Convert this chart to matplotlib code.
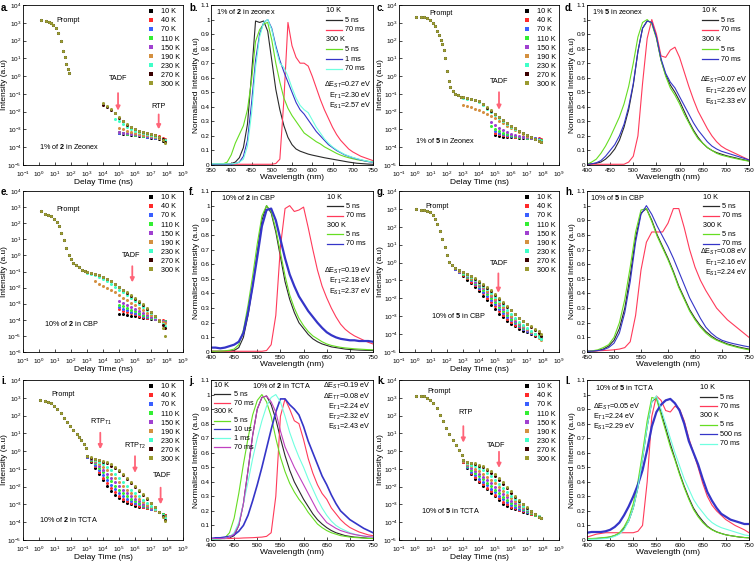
import numpy as np
import matplotlib
matplotlib.use('Agg')
import matplotlib.pyplot as plt
from matplotlib.lines import Line2D
from matplotlib.ticker import NullLocator

plt.rcParams['font.family'] = ['Liberation Sans', 'DejaVu Sans']
plt.rcParams['mathtext.fontset'] = 'custom'
plt.rcParams['mathtext.rm'] = 'Liberation Sans'
plt.rcParams['mathtext.it'] = 'Liberation Sans:italic'
plt.rcParams['mathtext.bf'] = 'Liberation Sans:bold'
plt.rcParams['mathtext.sf'] = 'Liberation Sans'
plt.rcParams['axes.linewidth'] = 0.6

n = np.nan

temps = ['10 K', '40 K', '70 K', '110 K', '150 K', '190 K', '230 K', '270 K', '300 K']
temp_colors = ['#000000', '#ff2a2a', '#3a5fff', '#33ee33', '#a040d0',
               '#d49040', '#40ffc8', '#3a0000', '#9a9a30']

# ---------------- decay data (log10 of time in ns, log10 of intensity) ----------------
a_t_prompt = [0.15, 0.46, 0.6, 0.75, 0.9, 1.05, 1.2, 1.35, 1.5, 1.6, 1.7, 1.8, 1.9]
a_i_prompt = [3.18, 3.08, 3.05, 3.0, 2.9, 2.72, 2.4, 1.95, 1.4, 1.05, 0.7, 0.42, 0.2]
a_t_del = [4.0, 4.25, 4.5, 4.75, 5.0, 5.25, 5.5, 5.75, 6.0, 6.25, 6.5, 6.75, 7.0, 7.25, 7.5, 7.75, 7.9]
a_i_del = [
    [n, n, n, n, -3.2, -3.24, -3.28, -3.3, -3.33, -3.36, -3.39, -3.42, -3.46, -3.5, -3.56, -3.64, -3.72],
    [n, n, n, n, -3.15, -3.2, -3.24, -3.27, -3.3, -3.32, -3.34, -3.36, -3.36, -3.33, -3.38, -3.46, -3.54],
    [n, n, n, n, -3.18, -3.22, -3.26, -3.28, -3.31, -3.34, -3.37, -3.4, -3.43, -3.46, -3.5, -3.56, -3.62],
    [n, n, n, n, -3.17, -3.2, -3.24, -3.27, -3.3, -3.33, -3.36, -3.39, -3.42, -3.45, -3.5, -3.55, -3.6],
    [n, n, n, n, -3.16, -3.19, -3.22, -3.25, -3.28, -3.31, -3.34, -3.37, -3.4, -3.44, -3.48, -3.52, -3.58],
    [n, n, n, n, -2.9, -3.0, -3.08, -3.15, -3.21, -3.26, -3.3, -3.34, -3.38, -3.42, -3.46, -3.52, -3.58],
    [n, n, n, -2.4, -2.55, -2.72, -2.87, -2.98, -3.07, -3.14, -3.2, -3.25, -3.3, -3.36, -3.43, -3.52, -3.6],
    [-1.6, -1.75, -1.9, -2.1, -2.33, -2.55, -2.74, -2.88, -2.99, -3.08, -3.15, -3.21, -3.27, -3.34, -3.43, -3.56, -3.68],
    [-1.5, -1.68, -1.86, -2.06, -2.28, -2.5, -2.7, -2.85, -2.97, -3.06, -3.14, -3.2, -3.26, -3.33, -3.44, -3.58, -3.75],
]

c_t_prompt = [0.05, 0.35, 0.55, 0.75, 0.95, 1.1, 1.25, 1.4, 1.5, 1.6, 1.7, 1.8, 1.9, 2.0, 2.1, 2.2, 2.35, 2.5, 2.7, 2.9]
c_i_prompt = [3.35, 3.32, 3.3, 3.25, 3.15, 3.0, 2.8, 2.55, 2.3, 2.05, 1.8, 1.45, 1.0, 0.3, -0.3, -0.6, -0.85, -0.98, -1.08, -1.15]
c_t_del = [3.0, 3.25, 3.5, 3.75, 4.0, 4.25, 4.5, 4.75, 5.0, 5.25, 5.5, 5.75, 6.0, 6.25, 6.5, 6.75, 7.0, 7.25, 7.5, 7.75, 7.9]
c_i_del = [
    [n] * 8 + [-3.3, -3.36, -3.4, -3.42, -3.44, -3.45, -3.46, -3.47, -3.48, -3.5, -3.52, -3.56, -3.6],
    [n] * 8 + [-3.2, -3.27, -3.32, -3.35, -3.38, -3.4, -3.42, -3.43, -3.44, -3.45, -3.47, -3.5, -3.52],
    [n] * 8 + [-3.1, -3.2, -3.27, -3.32, -3.36, -3.39, -3.42, -3.44, -3.46, -3.48, -3.5, -3.54, -3.58],
    [n] * 7 + [-2.8, -2.95, -3.08, -3.18, -3.26, -3.32, -3.37, -3.41, -3.44, -3.47, -3.5, -3.54, -3.58, -3.62],
    [n] * 7 + [-2.6, -2.75, -2.9, -3.03, -3.14, -3.23, -3.3, -3.36, -3.41, -3.45, -3.5, -3.55, -3.6, -3.65],
    [-1.6, -1.68, -1.76, -1.84, -1.93, -2.03, -2.13, -2.25, -2.38, -2.52, -2.66, -2.8, -2.93, -3.05, -3.16, -3.26, -3.36, -3.45, -3.54, -3.62, -3.68],
    [-1.22, -1.27, -1.31, -1.36, -1.45, -1.62, -1.85, -2.02, -2.2, -2.38, -2.55, -2.7, -2.85, -2.98, -3.1, -3.21, -3.32, -3.42, -3.52, -3.6, -3.67],
    [-1.2, -1.25, -1.29, -1.34, -1.42, -1.57, -1.77, -1.95, -2.14, -2.32, -2.49, -2.65, -2.8, -2.94, -3.07, -3.19, -3.31, -3.43, -3.54, -3.64, -3.71],
    [-1.2, -1.25, -1.28, -1.33, -1.4, -1.55, -1.75, -1.93, -2.12, -2.3, -2.47, -2.63, -2.78, -2.93, -3.06, -3.18, -3.3, -3.42, -3.53, -3.63, -3.7],
]

e_t_prompt = [0.1, 0.35, 0.55, 0.75, 0.95, 1.1, 1.25, 1.4, 1.55, 1.7, 1.85, 2.0, 2.15, 2.3, 2.5, 2.7, 2.9]
e_i_prompt = [2.75, 2.6, 2.52, 2.45, 2.28, 2.1, 1.8, 1.4, 0.95, 0.45, 0.05, -0.25, -0.45, -0.6, -0.75, -0.88, -0.98]
e_t_del = [3.0, 3.25, 3.5, 3.75, 4.0, 4.25, 4.5, 4.75, 5.0, 5.25, 5.5, 5.75, 6.0, 6.25, 6.5, 6.75, 7.0, 7.25, 7.5, 7.75, 7.9]
e_i_del = [
    [n] * 8 + [-3.62, -3.66, -3.7, -3.74, -3.78, -3.82, -3.86, -3.9, -3.93, -3.96, -4.0, -4.05, -4.1],
    [n] * 8 + [-3.35, -3.45, -3.53, -3.6, -3.67, -3.74, -3.8, -3.86, -3.91, -3.96, -4.0, -4.04, -4.07],
    [n] * 8 + [-3.2, -3.3, -3.4, -3.49, -3.58, -3.66, -3.74, -3.82, -3.89, -3.95, -4.0, -4.05, -4.08],
    [n] * 8 + [-3.05, -3.16, -3.27, -3.38, -3.48, -3.58, -3.68, -3.77, -3.86, -3.94, -4.0, -4.06, -4.1],
    [n] * 8 + [-2.85, -2.98, -3.1, -3.22, -3.34, -3.46, -3.58, -3.7, -3.82, -3.92, -4.0, -4.08, -4.12],
    [n, n, -1.6, -1.75, -1.9, -2.02, -2.15, -2.3, -2.45, -2.62, -2.78, -2.95, -3.1, -3.25, -3.4, -3.55, -3.7, -3.85, -4.0, -4.12, -4.2],
    [-1.1, -1.16, -1.23, -1.32, -1.45, -1.6, -1.77, -1.95, -2.13, -2.3, -2.48, -2.66, -2.84, -3.02, -3.2, -3.4, -3.6, -3.82, -4.05, -4.25, -4.4],
    [-1.05, -1.11, -1.17, -1.24, -1.34, -1.47, -1.62, -1.78, -1.97, -2.14, -2.32, -2.5, -2.68, -2.87, -3.06, -3.3, -3.54, -3.78, -4.05, -4.3, -4.5],
    [-1.05, -1.1, -1.16, -1.22, -1.32, -1.45, -1.6, -1.76, -1.95, -2.12, -2.3, -2.48, -2.65, -2.84, -3.02, -3.25, -3.5, -3.75, -4.05, -4.5, -5.0],
]

g_t_prompt = [0.05, 0.35, 0.55, 0.75, 0.95, 1.1, 1.25, 1.4, 1.55, 1.7, 1.85, 2.0, 2.15, 2.3]
g_i_prompt = [3.02, 2.95, 2.94, 2.9, 2.8, 2.65, 2.45, 2.15, 1.75, 1.3, 0.85, 0.4, 0.05, -0.15]
g_t_del = [2.5, 2.75, 3.0, 3.25, 3.5, 3.75, 4.0, 4.25, 4.5, 4.75, 5.0, 5.25, 5.5, 5.75, 6.0, 6.25, 6.5, 6.75, 7.0, 7.25, 7.5, 7.75, 7.9]
g_i_del = [
    [-0.36, -0.55, -0.75, -0.95, -1.15, -1.38, -1.6, -1.85, -2.1, -2.35, -2.6, -2.85, -3.05, -3.25, -3.42, -3.57, -3.7, -3.8, -3.9, -3.98, -4.08, -4.18, -4.25],
    [-0.35, -0.52, -0.7, -0.88, -1.06, -1.27, -1.48, -1.72, -1.96, -2.2, -2.45, -2.7, -2.92, -3.13, -3.32, -3.48, -3.62, -3.74, -3.85, -3.95, -4.05, -4.16, -4.25],
    [-0.34, -0.5, -0.66, -0.83, -1.0, -1.2, -1.4, -1.63, -1.86, -2.1, -2.34, -2.58, -2.8, -3.02, -3.22, -3.4, -3.56, -3.7, -3.82, -3.92, -4.02, -4.13, -4.22],
    [-0.33, -0.48, -0.63, -0.78, -0.94, -1.13, -1.32, -1.54, -1.76, -1.99, -2.23, -2.47, -2.7, -2.93, -3.14, -3.33, -3.5, -3.65, -3.78, -3.9, -4.0, -4.12, -4.2],
    [-0.32, -0.46, -0.6, -0.74, -0.88, -1.06, -1.24, -1.45, -1.66, -1.88, -2.12, -2.36, -2.6, -2.83, -3.05, -3.25, -3.43, -3.6, -3.75, -3.88, -4.0, -4.15, -4.28],
    [-0.31, -0.45, -0.58, -0.71, -0.84, -1.0, -1.18, -1.38, -1.58, -1.79, -2.02, -2.25, -2.5, -2.74, -2.97, -3.18, -3.38, -3.56, -3.72, -3.87, -4.02, -4.2, -4.35],
    [-0.3, -0.44, -0.57, -0.69, -0.81, -0.96, -1.12, -1.31, -1.5, -1.7, -1.92, -2.14, -2.38, -2.63, -2.87, -3.09, -3.3, -3.5, -3.67, -3.83, -3.98, -4.15, -4.3],
    [-0.3, -0.42, -0.55, -0.66, -0.77, -0.9, -1.06, -1.24, -1.42, -1.6, -1.82, -2.02, -2.24, -2.46, -2.68, -2.9, -3.1, -3.28, -3.45, -3.6, -3.75, -3.95, -4.12],
    [-0.28, -0.4, -0.53, -0.63, -0.74, -0.86, -1.02, -1.2, -1.38, -1.56, -1.78, -1.98, -2.2, -2.43, -2.66, -2.88, -3.08, -3.26, -3.42, -3.56, -3.7, -3.85, -4.0],
]

i_t_prompt = [0.08, 0.35, 0.55, 0.75, 0.95, 1.15, 1.35, 1.55, 1.75, 1.95, 2.15, 2.35, 2.5, 2.65, 2.8, 2.95]
i_i_prompt = [2.9, 2.8, 2.76, 2.7, 2.55, 2.35, 2.12, 1.88, 1.62, 1.4, 1.2, 0.95, 0.78, 0.62, 0.4, 0.15]
i_t_del = [3.0, 3.25, 3.5, 3.75, 4.0, 4.25, 4.5, 4.75, 5.0, 5.25, 5.5, 5.75, 6.0, 6.25, 6.5, 6.75, 7.0, 7.25, 7.5, 7.75, 7.9]
i_i_del = [
    [-0.35, -0.62, -0.95, -1.3, -1.65, -1.95, -2.22, -2.45, -2.65, -2.8, -2.92, -3.0, -3.06, -3.12, -3.17, -3.22, -3.27, -3.33, -3.42, -3.52, -3.6],
    [-0.33, -0.57, -0.86, -1.18, -1.5, -1.8, -2.07, -2.3, -2.5, -2.67, -2.81, -2.92, -3.0, -3.08, -3.15, -3.21, -3.27, -3.34, -3.43, -3.54, -3.62],
    [-0.31, -0.52, -0.77, -1.05, -1.34, -1.62, -1.89, -2.13, -2.34, -2.52, -2.67, -2.8, -2.91, -3.0, -3.09, -3.17, -3.25, -3.33, -3.43, -3.55, -3.64],
    [-0.3, -0.48, -0.69, -0.93, -1.18, -1.44, -1.7, -1.94, -2.16, -2.36, -2.53, -2.68, -2.81, -2.92, -3.02, -3.12, -3.22, -3.32, -3.43, -3.56, -3.66],
    [-0.28, -0.44, -0.62, -0.82, -1.04, -1.27, -1.51, -1.75, -1.97, -2.18, -2.37, -2.54, -2.69, -2.82, -2.95, -3.07, -3.19, -3.3, -3.43, -3.57, -3.68],
    [-0.27, -0.41, -0.55, -0.71, -0.89, -1.09, -1.3, -1.53, -1.76, -1.98, -2.19, -2.38, -2.55, -2.71, -2.86, -3.01, -3.15, -3.29, -3.43, -3.58, -3.7],
    [-0.26, -0.38, -0.49, -0.6, -0.74, -0.9, -1.08, -1.29, -1.51, -1.73, -1.95, -2.16, -2.36, -2.55, -2.73, -2.91, -3.08, -3.25, -3.43, -3.6, -3.75],
    [-0.25, -0.36, -0.44, -0.51, -0.59, -0.69, -0.81, -0.96, -1.14, -1.34, -1.56, -1.78, -2.0, -2.22, -2.45, -2.68, -2.91, -3.15, -3.4, -3.65, -3.85],
    [-0.25, -0.35, -0.42, -0.48, -0.55, -0.64, -0.75, -0.9, -1.08, -1.28, -1.5, -1.72, -1.95, -2.18, -2.42, -2.66, -2.9, -3.15, -3.42, -3.7, -3.95],
]

k_t_prompt = [0.05, 0.35, 0.55, 0.75, 0.95, 1.15, 1.35, 1.55, 1.75, 1.95, 2.15, 2.35, 2.55, 2.75, 2.95]
k_i_prompt = [3.12, 3.12, 3.08, 3.0, 2.88, 2.68, 2.4, 2.05, 1.68, 1.3, 0.95, 0.65, 0.35, 0.05, -0.22]
k_t_del = [3.0, 3.25, 3.5, 3.75, 4.0, 4.25, 4.5, 4.75, 5.0, 5.25, 5.5, 5.75, 6.0, 6.25, 6.5, 6.75, 7.0, 7.25, 7.5, 7.75, 7.9]
k_i_del = [
    [-0.6, -0.95, -1.3, -1.55, -1.75, -1.95, -2.15, -2.35, -2.55, -2.75, -2.95, -3.1, -3.2, -3.28, -3.34, -3.4, -3.46, -3.52, -3.6, -3.7, -3.78],
    [-0.59, -0.92, -1.24, -1.48, -1.67, -1.86, -2.05, -2.25, -2.45, -2.65, -2.84, -3.0, -3.12, -3.22, -3.3, -3.37, -3.44, -3.51, -3.59, -3.69, -3.77],
    [-0.58, -0.87, -1.15, -1.37, -1.55, -1.73, -1.92, -2.11, -2.31, -2.51, -2.7, -2.87, -3.01, -3.13, -3.23, -3.32, -3.41, -3.49, -3.58, -3.69, -3.77],
    [-0.57, -0.82, -1.05, -1.24, -1.41, -1.58, -1.77, -1.96, -2.16, -2.36, -2.56, -2.74, -2.9, -3.04, -3.16, -3.27, -3.37, -3.47, -3.57, -3.68, -3.77],
    [-0.56, -0.77, -0.96, -1.12, -1.27, -1.43, -1.61, -1.8, -2.0, -2.2, -2.4, -2.6, -2.78, -2.94, -3.08, -3.21, -3.33, -3.45, -3.56, -3.68, -3.77],
    [-0.54, -0.72, -0.86, -0.98, -1.11, -1.26, -1.43, -1.62, -1.82, -2.03, -2.24, -2.45, -2.64, -2.82, -2.99, -3.14, -3.28, -3.42, -3.55, -3.67, -3.77],
    [-0.52, -0.66, -0.76, -0.84, -0.95, -1.08, -1.24, -1.42, -1.62, -1.84, -2.06, -2.29, -2.5, -2.7, -2.89, -3.06, -3.23, -3.39, -3.54, -3.67, -3.77],
    [-0.51, -0.62, -0.68, -0.72, -0.81, -0.92, -1.05, -1.21, -1.4, -1.62, -1.85, -2.09, -2.33, -2.57, -2.79, -2.99, -3.19, -3.38, -3.55, -3.69, -3.78],
    [-0.5, -0.6, -0.65, -0.68, -0.76, -0.86, -0.98, -1.12, -1.3, -1.52, -1.76, -2.0, -2.25, -2.5, -2.73, -2.95, -3.17, -3.38, -3.56, -3.7, -3.78],
]

# ---------------- spectra data (normalised intensity) ----------------
b_wl = list(range(350, 760, 10))
b_10K_5ns = [0.005, 0.005, 0.005, 0.005, 0.007, 0.01, 0.02, 0.05, 0.12, 0.28, 0.62, 0.99, 0.98, 0.99, 0.92, 0.72, 0.52, 0.38, 0.27, 0.19, 0.14,
             0.11, 0.095, 0.085, 0.075, 0.068, 0.062, 0.056, 0.05, 0.045, 0.04, 0.035, 0.03, 0.025, 0.02, 0.016, 0.012, 0.01, 0.008, 0.006, 0.005]
b_10K_70ms = [0.005] * 16 + [0.01, 0.04, 0.45, 0.98, 0.82, 0.74, 0.7, 0.7, 0.68, 0.61, 0.53, 0.45, 0.38, 0.32, 0.26, 0.21, 0.17, 0.14,
                              0.11, 0.09, 0.075, 0.06, 0.05, 0.04, 0.03]
b_300K_5ns = [0.005, 0.005, 0.006, 0.008, 0.02, 0.07, 0.15, 0.21, 0.27, 0.38, 0.58, 0.85, 0.93, 0.97, 0.98, 0.86, 0.7, 0.57, 0.46, 0.39, 0.34,
              0.3, 0.26, 0.22, 0.2, 0.18, 0.16, 0.145, 0.125, 0.11, 0.095, 0.08, 0.068, 0.058, 0.05, 0.043, 0.037, 0.032, 0.028, 0.025, 0.022]
b_300K_1ms = [0.005] * 6 + [0.01, 0.02, 0.06, 0.17, 0.42, 0.72, 0.9, 0.98, 1.0, 0.94, 0.82, 0.72, 0.64, 0.57, 0.5, 0.43, 0.38, 0.35, 0.31, 0.27,
                             0.23, 0.2, 0.17, 0.14, 0.12, 0.1, 0.085, 0.07, 0.06, 0.05, 0.042, 0.035, 0.028, 0.022, 0.018]
b_300K_70ms = [0.008] * 6 + [0.01, 0.02, 0.04, 0.13, 0.35, 0.67, 0.88, 0.98, 1.0, 0.93, 0.8, 0.7, 0.67, 0.61, 0.53, 0.46, 0.41, 0.38, 0.36, 0.31,
                              0.26, 0.22, 0.18, 0.15, 0.125, 0.105, 0.088, 0.073, 0.062, 0.052, 0.044, 0.037, 0.03, 0.024, 0.02]

d_wl = list(range(400, 760, 10))
d_10K_5ns = [0.005, 0.008, 0.012, 0.02, 0.04, 0.07, 0.11, 0.17, 0.26, 0.38, 0.55, 0.78, 0.94, 0.99, 0.98, 0.88, 0.72, 0.62, 0.55, 0.5, 0.44,
             0.37, 0.3, 0.24, 0.19, 0.15, 0.12, 0.1, 0.085, 0.075, 0.065, 0.057, 0.05, 0.042, 0.035, 0.028]
d_10K_70ms = [0.005] * 9 + [0.02, 0.06, 0.2, 0.56, 0.87, 1.0, 0.9, 0.75, 0.74, 0.79, 0.81, 0.74, 0.64, 0.54, 0.45, 0.37, 0.31, 0.25, 0.2,
                             0.16, 0.13, 0.11, 0.095, 0.08, 0.065, 0.05, 0.035]
d_300K_5ns = [0.005, 0.02, 0.04, 0.08, 0.13, 0.19, 0.26, 0.33, 0.42, 0.54, 0.7, 0.88, 0.98, 1.0, 0.97, 0.87, 0.72, 0.61, 0.53, 0.48, 0.42,
              0.35, 0.29, 0.23, 0.18, 0.15, 0.12, 0.1, 0.08, 0.068, 0.06, 0.052, 0.045, 0.038, 0.032, 0.026]
d_300K_70ms = [0.005, 0.008, 0.015, 0.03, 0.06, 0.1, 0.14, 0.2, 0.28, 0.4, 0.56, 0.78, 0.94, 0.99, 0.98, 0.88, 0.73, 0.63, 0.57, 0.53, 0.47,
               0.41, 0.35, 0.29, 0.24, 0.2, 0.16, 0.13, 0.11, 0.095, 0.085, 0.075, 0.065, 0.055, 0.045, 0.035]

f_wl = list(range(400, 760, 10))
f_10K_5ns = [0.005, 0.005, 0.005, 0.005, 0.008, 0.01, 0.03, 0.1, 0.25, 0.45, 0.68, 0.9, 1.0, 0.95, 0.82, 0.65, 0.48, 0.36, 0.27, 0.2, 0.16,
             0.12, 0.09, 0.07, 0.055, 0.045, 0.035, 0.03, 0.025, 0.02, 0.017, 0.015, 0.013, 0.012, 0.011, 0.01]
f_10K_70ms = [0.005] * 12 + [0.01, 0.05, 0.25, 0.72, 0.98, 1.0, 0.96, 0.97, 0.99, 0.85, 0.7, 0.56, 0.45, 0.37, 0.3, 0.24, 0.19, 0.155,
                              0.13, 0.11, 0.095, 0.08, 0.066, 0.055]
f_300K_5ns = [0.005, 0.005, 0.006, 0.008, 0.012, 0.02, 0.05, 0.15, 0.32, 0.52, 0.74, 0.93, 1.0, 0.96, 0.84, 0.68, 0.52, 0.39, 0.3, 0.23, 0.18,
              0.14, 0.11, 0.09, 0.07, 0.055, 0.045, 0.038, 0.032, 0.028, 0.025, 0.022, 0.02, 0.018, 0.016, 0.015]
f_300K_70ms = [0.03, 0.03, 0.025, 0.03, 0.04, 0.05, 0.07, 0.13, 0.27, 0.45, 0.65, 0.86, 0.97, 0.98, 0.9, 0.77, 0.64, 0.53, 0.45, 0.38, 0.33,
               0.28, 0.24, 0.2, 0.165, 0.135, 0.115, 0.1, 0.09, 0.085, 0.08, 0.08, 0.075, 0.075, 0.075, 0.07]

h_wl = list(range(450, 760, 10))
h_10K_5ns = [0.005, 0.005, 0.01, 0.02, 0.04, 0.08, 0.16, 0.3, 0.52, 0.78, 0.95, 0.98, 0.9, 0.8, 0.72, 0.64, 0.55, 0.45, 0.37, 0.29, 0.23,
             0.18, 0.14, 0.11, 0.085, 0.07, 0.055, 0.045, 0.035, 0.027, 0.02]
h_10K_70ms = [0.005, 0.006, 0.008, 0.01, 0.012, 0.015, 0.02, 0.03, 0.07, 0.25, 0.56, 0.75, 0.82, 0.82, 0.82, 0.88, 0.98, 0.98, 0.85, 0.7,
              0.58, 0.49, 0.42, 0.36, 0.3, 0.26, 0.22, 0.19, 0.16, 0.13, 0.1]
h_300K_5ns = [0.005, 0.008, 0.015, 0.03, 0.05, 0.1, 0.2, 0.36, 0.58, 0.82, 0.97, 0.98, 0.89, 0.79, 0.71, 0.63, 0.54, 0.44, 0.36, 0.28, 0.22,
              0.17, 0.13, 0.1, 0.08, 0.065, 0.05, 0.04, 0.03, 0.022, 0.015]
h_300K_70ms = [0.005, 0.006, 0.01, 0.015, 0.03, 0.06, 0.13, 0.27, 0.48, 0.75, 0.94, 1.0, 0.94, 0.86, 0.79, 0.72, 0.64, 0.55, 0.46, 0.37,
               0.3, 0.23, 0.17, 0.13, 0.1, 0.08, 0.068, 0.058, 0.05, 0.042, 0.035]

j_wl = list(range(400, 760, 10))
j_10K_5ns = [0.01, 0.01, 0.01, 0.01, 0.015, 0.03, 0.1, 0.25, 0.48, 0.72, 0.9, 0.98, 0.99, 0.93, 0.83, 0.7, 0.58, 0.48, 0.4, 0.34, 0.28,
             0.23, 0.18, 0.14, 0.11, 0.085, 0.065, 0.05, 0.04, 0.03, 0.025, 0.02, 0.018, 0.015, 0.012, 0.01]
j_10K_70ms = [0.01, 0.01, 0.01, 0.01, 0.01, 0.012, 0.012, 0.014, 0.015, 0.016, 0.018, 0.02, 0.025, 0.05, 0.3, 0.85, 0.97, 0.9, 0.82, 0.8,
              0.69, 0.56, 0.46, 0.38, 0.32, 0.28, 0.22, 0.18, 0.14, 0.11, 0.086, 0.07, 0.055, 0.045, 0.035, 0.03]
j_300K_5ns = [0.005, 0.005, 0.008, 0.015, 0.05, 0.15, 0.32, 0.52, 0.7, 0.86, 0.96, 1.0, 0.95, 0.85, 0.7, 0.57, 0.47, 0.39, 0.33, 0.28, 0.24,
              0.19, 0.15, 0.11, 0.085, 0.065, 0.05, 0.04, 0.03, 0.025, 0.02, 0.017, 0.015, 0.013, 0.011, 0.01]
j_300K_10us = [0.01, 0.015, 0.015, 0.02, 0.025, 0.035, 0.06, 0.1, 0.17, 0.27, 0.38, 0.5, 0.63, 0.76, 0.88, 0.97, 0.97, 0.93, 0.9, 0.86, 0.78,
               0.68, 0.6, 0.52, 0.44, 0.38, 0.31, 0.25, 0.2, 0.17, 0.14, 0.12, 0.1, 0.08, 0.065, 0.05]
j_300K_1ms = [0.005, 0.006, 0.008, 0.012, 0.02, 0.05, 0.12, 0.25, 0.4, 0.56, 0.7, 0.82, 0.92, 0.98, 1.0, 0.95, 0.85, 0.74, 0.65, 0.57, 0.5,
              0.42, 0.35, 0.28, 0.22, 0.17, 0.13, 0.1, 0.08, 0.065, 0.05, 0.04, 0.033, 0.027, 0.022, 0.02]
j_300K_70ms = [0.01, 0.01, 0.01, 0.012, 0.02, 0.04, 0.1, 0.25, 0.48, 0.72, 0.9, 0.98, 0.99, 0.95, 0.88, 0.75, 0.64, 0.57, 0.5, 0.44, 0.38,
               0.32, 0.26, 0.2, 0.16, 0.12, 0.1, 0.08, 0.065, 0.055, 0.045, 0.038, 0.032, 0.027, 0.023, 0.02]

l_wl = list(range(400, 760, 10))
l_10K_5ns = [0.01, 0.01, 0.01, 0.012, 0.015, 0.02, 0.03, 0.045, 0.08, 0.13, 0.22, 0.36, 0.56, 0.78, 0.95, 0.98, 0.88, 0.77, 0.66, 0.56, 0.46,
             0.37, 0.29, 0.22, 0.17, 0.13, 0.095, 0.072, 0.056, 0.045, 0.036, 0.03, 0.025, 0.02, 0.017, 0.015]
l_10K_70ms = [0.02, 0.03, 0.04, 0.045, 0.05, 0.05, 0.05, 0.05, 0.05, 0.05, 0.05, 0.06, 0.1, 0.4, 0.85, 0.99, 0.96, 0.89, 0.88, 0.92, 0.9,
              0.82, 0.7, 0.6, 0.5, 0.39, 0.3, 0.24, 0.2, 0.17, 0.14, 0.12, 0.1, 0.085, 0.07, 0.05]
l_300K_5ns = [0.01, 0.01, 0.012, 0.015, 0.018, 0.022, 0.032, 0.05, 0.09, 0.15, 0.25, 0.4, 0.6, 0.82, 0.98, 0.97, 0.86, 0.75, 0.64, 0.55, 0.45,
              0.36, 0.28, 0.21, 0.16, 0.12, 0.09, 0.07, 0.055, 0.045, 0.035, 0.03, 0.025, 0.02, 0.017, 0.015]
l_300K_500ns = [0.05, 0.055, 0.055, 0.055, 0.06, 0.07, 0.09, 0.12, 0.17, 0.23, 0.3, 0.38, 0.48, 0.62, 0.78, 0.88, 0.93, 0.96, 0.97, 0.94, 0.89,
                0.8, 0.68, 0.6, 0.52, 0.42, 0.33, 0.27, 0.22, 0.18, 0.16, 0.14, 0.13, 0.12, 0.11, 0.11]
l_300K_70ms = [0.005, 0.005, 0.006, 0.008, 0.01, 0.015, 0.025, 0.04, 0.07, 0.13, 0.22, 0.36, 0.56, 0.78, 0.95, 0.99, 0.9, 0.8, 0.7, 0.6, 0.51,
               0.42, 0.35, 0.28, 0.23, 0.19, 0.15, 0.12, 0.1, 0.085, 0.075, 0.065, 0.055, 0.045, 0.035, 0.03]

c_black = '#2a2a2a'
c_red = '#ff3a5a'
c_green = '#66dd22'
c_blue = '#3535c8'
c_cyan = '#70ffe0'
c_mag = '#c040c0'
arrow_col = '#ff6478'

FS = 5.2      # annotation / legend text
TFS = 4.6     # tick labels
LFS = 6.0     # axis labels

fig = plt.figure(figsize=(7.54, 5.66), dpi=100)


def px_axes(left, top, right, bottom):
    return fig.add_axes([left / 754, 1 - bottom / 566, (right - left) / 754, (bottom - top) / 566])


cols = [(23, 183), (211, 373), (399, 559), (587, 749)]
rows = [(5, 165), (191, 352), (380, 540)]


def style(ax, xpad=2.2):
    ax.tick_params(axis='both', which='both', labelsize=TFS, length=2, width=0.5, direction='in')
    ax.tick_params(axis='x', pad=xpad)
    ax.tick_params(axis='y', pad=1.0)


def decay_panel(ax, t_p, i_p, t_d, i_d, ylo, label):
    for k in range(9):
        ax.plot(10.0 ** np.array(t_p), 10.0 ** np.array(i_p), 'o', color=temp_colors[k], ms=2.2, mew=0)
    for k in range(9):
        ax.plot(10.0 ** np.array(t_d), 10.0 ** np.array(i_d[k], dtype=float), 'o',
                color=temp_colors[k], ms=2.2, mew=0)
    ax.set_xscale('log')
    ax.set_yscale('log')
    ax.set_xlim(0.1, 1e9)
    ax.set_ylim(10.0 ** ylo, 1e4)
    ax.set_xticks([10.0 ** p for p in range(-1, 10)])
    ax.set_yticks([10.0 ** p for p in range(ylo, 5)])
    ax.xaxis.set_minor_locator(NullLocator())
    ax.yaxis.set_minor_locator(NullLocator())
    style(ax, xpad=3.2)
    ax.set_xlabel('Delay Time (ns)', fontsize=LFS, labelpad=0.3)
    ax.set_ylabel('Intensity (a.u)', fontsize=LFS)
    ax.yaxis.set_label_coords(-0.092, 0.5)
    handles = [Line2D([], [], marker='s', ls='none', color=c, ms=2.6, mew=0) for c in temp_colors]
    ax.legend(handles, temps, loc='upper right', frameon=False, fontsize=FS, handlelength=0.8,
              handletextpad=0.9, labelspacing=0.28, borderaxespad=0.25, borderpad=0.2)
    ax.text(label[1], label[2], label[0], transform=ax.transAxes, fontsize=FS)


def arrow(ax, x, y_top, y_tip):
    ax.annotate('', xy=(10.0 ** x, 10.0 ** y_tip), xytext=(10.0 ** x, 10.0 ** y_top),
                arrowprops=dict(arrowstyle='-|>', color=arrow_col, lw=1.3, mutation_scale=6))


def spec_axes(ax, xlo, xhi):
    ax.set_xlim(xlo, xhi)
    ax.set_ylim(0, 1.1)
    ax.set_xticks(list(range(xlo, xhi + 1, 50)))
    ax.set_yticks([0, 0.1, 0.2, 0.3, 0.4, 0.5, 0.6, 0.7, 0.8, 0.9, 1.0, 1.1])
    ax.set_yticklabels(['0', '0.1', '0.2', '0.3', '0.4', '0.5', '0.6', '0.7', '0.8', '0.9', '1', '1.1'])
    style(ax)
    ax.set_xlabel('Wavelength (nm)', fontsize=LFS, labelpad=0.5)
    ax.set_ylabel('Normalised Intensity (a.u)', fontsize=LFS)
    ax.yaxis.set_label_coords(-0.07, 0.5)


def spec_legend(ax, x0, y0, entries, step=0.06):
    for k, (lab, col) in enumerate(entries):
        y = y0 - k * step
        if col is None:
            ax.text(x0, y, lab, transform=ax.transAxes, fontsize=FS, va='center', ha='left')
        else:
            ax.add_line(Line2D([x0, x0 + 0.1], [y, y], transform=ax.transAxes, color=col, lw=0.9))
            ax.text(x0 + 0.12, y, lab, transform=ax.transAxes, fontsize=FS, va='center', ha='left')


def text_block(ax, x, ys, lines, ha='right'):
    for y, s in zip(ys, lines):
        ax.text(x, y, s, transform=ax.transAxes, fontsize=FS, va='center', ha=ha)


# ---------------- row 1 ----------------
ax = px_axes(cols[0][0], rows[0][0], cols[0][1], rows[0][1])
decay_panel(ax, a_t_prompt, a_i_prompt, a_t_del, a_i_del, -5, ('1% of $\\mathbf{2}$ in Zeonex', 0.1, 0.1))
ax.text(10 ** 1.1, 10 ** 3.15, 'Prompt', fontsize=FS, va='center')
ax.text(10 ** 4.94, 10 ** -0.15, 'TADF', fontsize=FS, ha='center', va='center')
arrow(ax, 4.94, -0.8, -2.1)
ax.text(10 ** 7.5, 10 ** -1.7, 'RTP', fontsize=FS, ha='center', va='center')
arrow(ax, 7.48, -2.0, -3.15)

ax = px_axes(cols[1][0], rows[0][0], cols[1][1], rows[0][1])
ax.plot(b_wl, b_10K_5ns, color=c_black, lw=0.8)
ax.plot(b_wl, b_10K_70ms, color=c_red, lw=0.8)
ax.plot(b_wl, b_300K_5ns, color=c_green, lw=0.8)
ax.plot(b_wl, b_300K_1ms, color=c_blue, lw=0.8)
ax.plot(b_wl, b_300K_70ms, color=c_cyan, lw=0.8)
spec_axes(ax, 350, 750)
ax.text(0.03, 0.962, '1% of $\\mathbf{2}$ in zeonex', transform=ax.transAxes, fontsize=FS, va='center')
spec_legend(ax, 0.71, 0.966, [('10 K', None), ('5 ns', c_black), ('70 ms', c_red), ('300 K', None),
                               ('5 ns', c_green), ('1 ms', c_blue), ('70 ms', c_cyan)], step=0.061)
text_block(ax, 0.99, [0.5, 0.433, 0.37], ['$\\Delta$E$_{ST}$=0.27 eV', 'E$_{T1}$=2.30 eV', 'E$_{S1}$=2.57 eV'])

ax = px_axes(cols[2][0], rows[0][0], cols[2][1], rows[0][1])
decay_panel(ax, c_t_prompt, c_i_prompt, c_t_del, c_i_del, -5, ('1% of $\\mathbf{5}$ in Zeonex', 0.1, 0.14))
ax.text(10 ** 0.9, 10 ** 3.5, 'Prompt', fontsize=FS, va='center')
ax.text(10 ** 5.25, 10 ** -0.32, 'TADF', fontsize=FS, ha='center', va='center')
arrow(ax, 5.25, -0.75, -2.05)

ax = px_axes(cols[3][0], rows[0][0], cols[3][1], rows[0][1])
ax.plot(d_wl, d_10K_5ns, color=c_black, lw=0.8)
ax.plot(d_wl, d_10K_70ms, color=c_red, lw=0.8)
ax.plot(d_wl, d_300K_5ns, color=c_green, lw=0.8)
ax.plot(d_wl, d_300K_70ms, color=c_blue, lw=0.8)
spec_axes(ax, 400, 750)
ax.text(0.03, 0.962, '1% $\\mathbf{5}$ in zeonex', transform=ax.transAxes, fontsize=FS, va='center')
spec_legend(ax, 0.71, 0.966, [('10 K', None), ('5 ns', c_black), ('70 ms', c_red), ('300 K', None),
                               ('5 ns', c_green), ('70 ms', c_blue)], step=0.061)
text_block(ax, 0.99, [0.533, 0.465, 0.395], ['$\\Delta$E$_{ST}$=0.07 eV', 'E$_{T1}$=2.26 eV', 'E$_{S1}$=2.33 eV'])

# ---------------- row 2 ----------------
ax = px_axes(cols[0][0], rows[1][0], cols[0][1], rows[1][1])
decay_panel(ax, e_t_prompt, e_i_prompt, e_t_del, e_i_del, -6, ('10% of $\\mathbf{2}$ in CBP', 0.13, 0.16))
ax.text(10 ** 1.1, 10 ** 2.82, 'Prompt', fontsize=FS, va='center')
ax.text(10 ** 5.77, 10 ** 0.02, 'TADF', fontsize=FS, ha='center', va='center')
arrow(ax, 5.83, -0.5, -1.85)

ax = px_axes(cols[1][0], rows[1][0], cols[1][1], rows[1][1])
ax.plot(f_wl, f_10K_5ns, color=c_black, lw=0.8)
ax.plot(f_wl, f_10K_70ms, color=c_red, lw=0.8)
ax.plot(f_wl, f_300K_5ns, color=c_green, lw=0.8)
ax.plot(f_wl, f_300K_70ms, color=c_blue, lw=1.6)
spec_axes(ax, 400, 750)
ax.text(0.06, 0.962, '10% of $\\mathbf{2}$ in CBP', transform=ax.transAxes, fontsize=FS, va='center')
spec_legend(ax, 0.715, 0.962, [('10 K', None), ('5 ns', c_black), ('70 ms', c_red), ('300 K', None),
                                ('5 ns', c_green), ('70 ms', c_blue)], step=0.058)
text_block(ax, 0.99, [0.505, 0.44, 0.375], ['$\\Delta$E$_{ST}$=0.19 eV', 'E$_{T1}$=2.18 eV', 'E$_{S1}$=2.37 eV'])

ax = px_axes(cols[2][0], rows[1][0], cols[2][1], rows[1][1])
decay_panel(ax, g_t_prompt, g_i_prompt, g_t_del, g_i_del, -5, ('10% of $\\mathbf{5}$ in CBP', 0.2, 0.21))
ax.text(10 ** 0.67, 10 ** 3.13, 'Prompt', fontsize=FS, va='center')
ax.text(10 ** 5.25, 10 ** -0.08, 'TADF', fontsize=FS, ha='center', va='center')
arrow(ax, 5.21, -0.45, -1.85)

ax = px_axes(cols[3][0], rows[1][0], cols[3][1], rows[1][1])
ax.plot(h_wl, h_10K_5ns, color=c_black, lw=0.8)
ax.plot(h_wl, h_10K_70ms, color=c_red, lw=0.8)
ax.plot(h_wl, h_300K_5ns, color=c_green, lw=0.8)
ax.plot(h_wl, h_300K_70ms, color=c_blue, lw=0.8)
spec_axes(ax, 450, 750)
ax.text(0.02, 0.962, '10% of $\\mathbf{5}$ in CBP', transform=ax.transAxes, fontsize=FS, va='center')
spec_legend(ax, 0.715, 0.962, [('10 K', None), ('5 ns', c_black), ('70 ms', c_red), ('300 K', None),
                                ('5 ns', c_green), ('70 ms', c_blue)], step=0.058)
text_block(ax, 0.99, [0.622, 0.556, 0.492], ['$\\Delta$E$_{ST}$=0.08 eV', 'E$_{T1}$=2.16 eV', 'E$_{S1}$=2.24 eV'])

# ---------------- row 3 ----------------
ax = px_axes(cols[0][0], rows[2][0], cols[0][1], rows[2][1])
decay_panel(ax, i_t_prompt, i_i_prompt, i_t_del, i_i_del, -5, ('10% of $\\mathbf{2}$ in TCTA', 0.1, 0.11))
ax.text(10 ** 0.77, 10 ** 3.19, 'Prompt', fontsize=FS, va='center')
ax.text(10 ** 3.9, 10 ** 1.65, 'RTP$_{T1}$', fontsize=FS, ha='center', va='center')
arrow(ax, 3.83, 1.19, -0.05)
ax.text(10 ** 6.0, 10 ** 0.3, 'RTP$_{T2}$', fontsize=FS, ha='center', va='center')
arrow(ax, 6.0, -0.13, -1.38)
ax.text(10 ** 7.69, 10 ** -1.35, 'TADF', fontsize=FS, ha='center', va='center')
arrow(ax, 7.6, -1.9, -3.15)

ax = px_axes(cols[1][0], rows[2][0], cols[1][1], rows[2][1])
ax.plot(j_wl, j_10K_5ns, color=c_black, lw=0.8)
ax.plot(j_wl, j_10K_70ms, color=c_red, lw=0.8)
ax.plot(j_wl, j_300K_5ns, color=c_green, lw=0.8)
ax.plot(j_wl, j_300K_10us, color=c_blue, lw=1.2)
ax.plot(j_wl, j_300K_1ms, color=c_cyan, lw=0.8)
ax.plot(j_wl, j_300K_70ms, color=c_mag, lw=0.8)
spec_axes(ax, 400, 750)
ax.text(0.25, 0.966, '10% of $\\mathbf{2}$ in TCTA', transform=ax.transAxes, fontsize=FS, va='center')
spec_legend(ax, 0.02, 0.966, [('10 K', None), ('5 ns', c_black), ('70 ms', c_red), ('300 K', None),
                               ('5 ns', c_green), ('10 us', c_blue), ('1 ms', c_cyan), ('70 ms', c_mag)], step=0.055)
text_block(ax, 0.985, [0.966, 0.896, 0.833, 0.772, 0.708],
           ['$\\Delta$E$_{ST}$=0.19 eV', '$\\Delta$E$_{TT}$=0.08 eV', 'E$_{T1}$=2.24 eV', 'E$_{T2}$=2.32 eV', 'E$_{S1}$=2.43 eV'])

ax = px_axes(cols[2][0], rows[2][0], cols[2][1], rows[2][1])
decay_panel(ax, k_t_prompt, k_i_prompt, k_t_del, k_i_del, -5, ('10% of $\\mathbf{5}$ in TCTA', 0.135, 0.17))
ax.text(10 ** 0.77, 10 ** 3.38, 'Prompt', fontsize=FS, va='center')
ax.text(10 ** 3.13, 10 ** 2.18, 'RTP', fontsize=FS, ha='center', va='center')
arrow(ax, 3.02, 1.56, 0.32)
ax.text(10 ** 5.04, 10 ** 0.3, 'TADF', fontsize=FS, ha='center', va='center')
arrow(ax, 5.25, 0.12, -1.1)

ax = px_axes(cols[3][0], rows[2][0], cols[3][1], rows[2][1])
ax.plot(l_wl, l_10K_5ns, color=c_black, lw=0.8)
ax.plot(l_wl, l_10K_70ms, color=c_red, lw=0.8)
ax.plot(l_wl, l_300K_5ns, color=c_green, lw=0.8)
ax.plot(l_wl, l_300K_500ns, color=c_blue, lw=1.6)
ax.plot(l_wl, l_300K_70ms, color=c_cyan, lw=0.8)
spec_axes(ax, 400, 750)
ax.text(0.05, 0.951, '10% of $\\mathbf{5}$ in TCTA', transform=ax.transAxes, fontsize=FS, va='center')
spec_legend(ax, 0.70, 0.951, [('10 K', None), ('5 ns', c_black), ('70 ms', c_red), ('300 K', None),
                               ('5 ns', c_green), ('500 ns', c_blue), ('70 ms', c_cyan)], step=0.058)
text_block(ax, 0.04, [0.835, 0.772, 0.708], ['$\\Delta$E$_{ST}$=0.05 eV', 'E$_{T1}$=2.24 eV', 'E$_{S1}$=2.29 eV'], ha='left')

# panel letters
letters = ['a.', 'b.', 'c.', 'd.', 'e.', 'f.', 'g.', 'h.', 'i.', 'j.', 'k.', 'l.']
letter_x = [1, 189, 377, 565]
letter_y = [8, 192, 381]
for r in range(3):
    for c in range(4):
        fig.text(letter_x[c] / 754, 1 - letter_y[r] / 566, letters[r * 4 + c], fontsize=7,
                 fontweight='bold', va='center', ha='left')

fig.savefig('out.png', dpi=100)
